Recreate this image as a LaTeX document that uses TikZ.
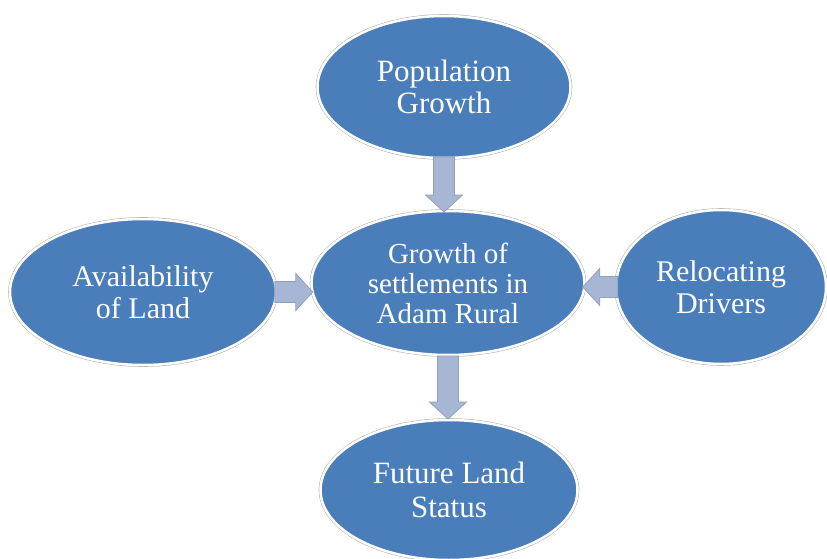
\documentclass[tikz,border=0pt]{standalone}
\usepackage{fontspec}
\setmainfont{Liberation Serif}
\usetikzlibrary{shapes.geometric}

\definecolor{ovalblue}{RGB}{74,126,187}
\definecolor{arrowfill}{RGB}{167,182,212}
\definecolor{arrowline}{RGB}{148,160,184}

\tikzset{
  oval/.style={shape=ellipse, fill=ovalblue, draw=white, line width=2.5pt,
    preaction={draw=black!30, line width=3.6pt},
    text=white, align=center, inner sep=0pt},
  pics/blockarrow/.style={code={
    \path[draw=arrowline, fill=arrowfill, line width=0.8pt]
      ({-#1/2*1pt},-10.5pt) -- ({#1/2*1pt-17pt},-10.5pt)
      -- ({#1/2*1pt-17pt},-18.5pt) -- ({#1/2*1pt},0pt)
      -- ({#1/2*1pt-17pt},18.5pt) -- ({#1/2*1pt-17pt},10.5pt)
      -- ({-#1/2*1pt},10.5pt) -- cycle;
  }}
}

\begin{document}
\begin{tikzpicture}[x=1pt, y=-1pt]

  \useasboundingbox (0,0) rectangle (827,559);

  % Central settlement node
  \node[oval, minimum width=273pt, minimum height=144pt, font=\fontsize{29}{30}\selectfont] (hub) at (448,283) {Growth of\\settlements in\\Adam Rural};
  % Factor nodes
  \node[oval, minimum width=253pt, minimum height=142pt, font=\fontsize{31}{32}\selectfont] (pop) at (444,87) {Population\\Growth};
  \node[oval, minimum width=266pt, minimum height=146pt, font=\fontsize{30}{32}\selectfont] (land) at (143,292) {Availability\\of Land};
  \node[oval, minimum width=210pt, minimum height=154pt, font=\fontsize{30}{32}\selectfont] (reloc) at (721,287) {Relocating\\Drivers};
  % Outcome node
  \node[oval, minimum width=257pt, minimum height=140pt, font=\fontsize{31}{34}\selectfont] (future) at (449,490) {Future Land\\Status};

  % Block arrows into the centre
  \path (pop.south) -- (pop.south |- hub.north) pic[midway, sloped, allow upside down] {blockarrow=55};
  \path (land.east) -- (land.east -| hub.west) pic[midway, sloped, allow upside down] {blockarrow=38};
  \path (reloc.west) -- (reloc.west -| hub.east) pic[midway, sloped, allow upside down] {blockarrow=35};
  % Block arrow out of the centre
  \path (hub.south) -- (hub.south |- future.north) pic[midway, sloped, allow upside down] {blockarrow=63};

\end{tikzpicture}
\end{document}
